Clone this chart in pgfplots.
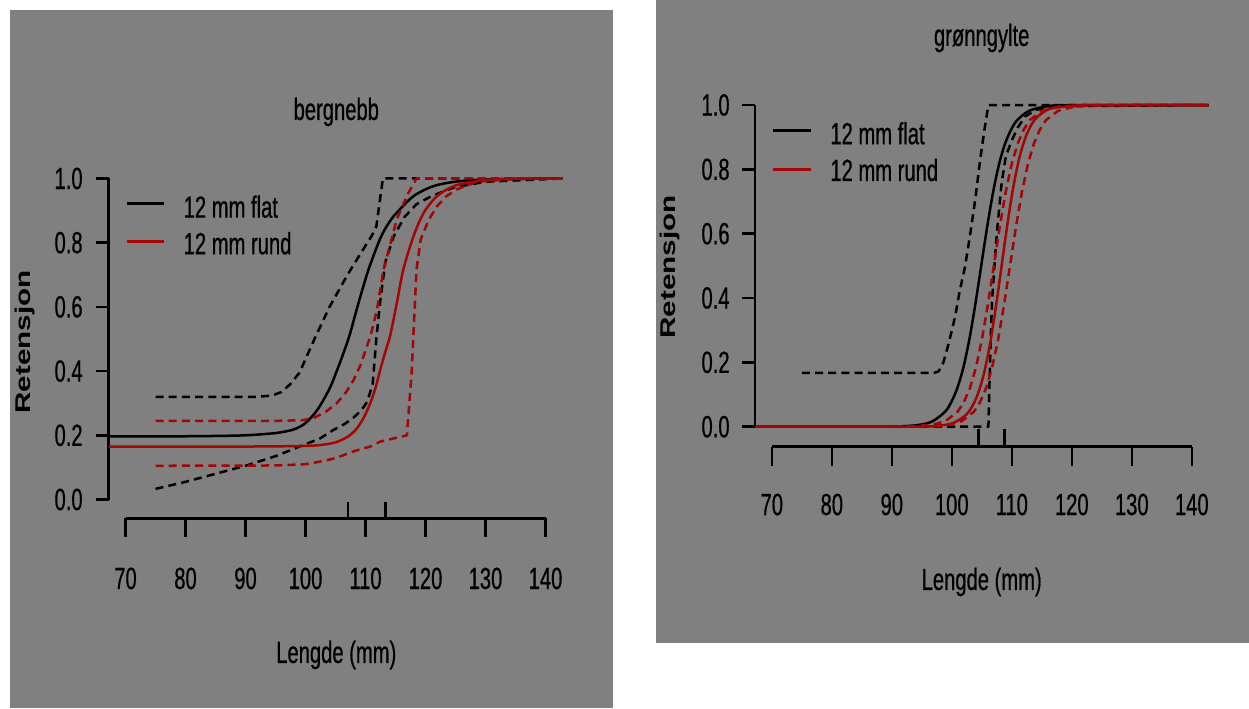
\documentclass[border=0pt]{standalone}
\usepackage{pgfplots}
\pgfplotsset{compat=1.18}
\usepackage{fontspec}
\usepackage{graphicx}
\setmainfont{Liberation Sans}[FakeStretch=0.66, FakeBold=0.6]
\newfontfamily\plainfont{Liberation Sans}
\definecolor{bg}{RGB}{128,128,128}
\definecolor{rred}{RGB}{165,5,5}
\tikzset{
  tl/.style={font=\fontsize{15.3}{17}\selectfont, text=black},
  bs/.style={black, line width=1.25pt, line join=round},
  bd/.style={black, line width=1.25pt, line join=round, dash pattern=on 4pt off 2.6pt},
  rs/.style={rred, line width=1.25pt, line join=round},
  rd/.style={rred, line width=1.25pt, line join=round, dash pattern=on 4pt off 2.6pt},
}
\pgfplotsset{rax/.style={scale only axis, hide axis, clip=false,
  xmin=67.2, xmax=142.8, ymin=-0.2, ymax=1.04, anchor=south west}}
\begin{document}
\begin{tikzpicture}[x=0.5pt,y=0.5pt]
\path[use as bounding box] (0,0) rectangle (1249,708);
\fill[white] (0,0) rectangle (1249,708);
\fill[bg] (10,0) rectangle (613,698);
\fill[bg] (656,65) rectangle (1249,708);

% ---------------- left panel: bergnebb ----------------
\begin{axis}[rax, at={(54.35pt,72.15pt)}, width=226.8pt, height=199.02pt]
\draw[line width=1.6pt] (axis cs:70,-0.0586) -- (axis cs:140,-0.0586);
\pgfplotsinvokeforeach{70,80,90,100,110,120,130,140}{
  \draw[line width=1.3pt] (axis cs:#1,-0.0586) -- (axis cs:#1,-0.118);
  \node[tl] at (axis cs:#1,-0.246) {#1};
}
\draw[line width=1.3pt] (axis cs:67.2,0) -- (axis cs:67.2,1);
\pgfplotsinvokeforeach{0.0,0.2,0.4,0.6,0.8,1.0}{
  \draw[line width=1.3pt] (axis cs:67.2,#1) -- (axis cs:65.03,#1);
  \node[tl, anchor=east, inner sep=0pt] at (axis cs:62.92,#1) {#1};
}
% rug of L50
\addplot[black, line width=1.3pt] coordinates {(107.05,-0.0586) (107.05,-0.0078)};
\addplot[black, line width=1.3pt] coordinates {(113.3,-0.0586) (113.3,-0.0078)};
% 12 mm flat
\addplot[bs, smooth] coordinates {(67.2,0.197) (75,0.197) (80,0.197) (85,0.198) (90,0.2) (95,0.207) (98,0.218) (100,0.238) (102,0.28) (104,0.345) (105.2,0.40) (106.4,0.46) (107.4,0.515) (108.8,0.61) (110.5,0.716) (112.5,0.815) (114,0.865) (115.2,0.893) (118,0.945) (121.3,0.976) (125,0.99) (130,0.997) (142.8,1.0)};
\addplot[bd] coordinates {(75,0.32) (92,0.32) (94.5,0.324) (96,0.335) (97.5,0.36) (99,0.395) (100.3,0.45) (101.5,0.5) (104,0.6) (107,0.7) (109.3,0.77) (111,0.82) (111.8,0.85) (112.9,1.0) (142.8,1.0)};
\addplot[bd] coordinates {(75,0.033) (80,0.055) (85,0.08) (90,0.105) (95,0.135) (99,0.165) (102.4,0.19) (104.5,0.215) (106.5,0.235) (108,0.255) (109.4,0.28) (110.3,0.305) (111.2,0.36) (111.8,0.50) (112.4,0.61) (113.3,0.74) (114.7,0.82) (116.5,0.88) (118.5,0.92) (121,0.945) (124.7,0.972) (130,0.99) (142.8,1.0)};
% 12 mm rund
\addplot[rs, smooth] coordinates {(67.2,0.165) (90,0.165) (100,0.167) (103,0.171) (105,0.178) (107,0.195) (108.5,0.22) (109.7,0.255) (110.8,0.30) (111.7,0.35) (112.4,0.40) (113.3,0.46) (114.1,0.51) (115.2,0.61) (116.3,0.716) (118,0.82) (119.7,0.893) (121.9,0.945) (124.7,0.976) (128,0.99) (133,0.998) (142.8,1.0)};
\addplot[rd] coordinates {(75,0.245) (95,0.245) (99.6,0.247) (101.5,0.255) (103.5,0.275) (105.2,0.30) (106.8,0.335) (108,0.372) (109.2,0.42) (110.2,0.476) (110.8,0.507) (111.9,0.59) (113,0.716) (114.2,0.80) (115.2,0.872) (117,0.95) (118.5,1.0) (142.8,1.0)};
\addplot[rd] coordinates {(75,0.105) (95,0.106) (100,0.11) (103,0.12) (105.2,0.13) (108,0.15) (110.8,0.165) (112.4,0.18) (116.9,0.20) (117.3,0.30) (117.7,0.40) (118.5,0.716) (119.2,0.81) (120.5,0.87) (121.9,0.913) (123.5,0.945) (125.2,0.966) (128.6,0.99) (135,0.999) (142.8,1.0)};
\end{axis}

% ---------------- right panel: grønngylte ----------------
\begin{axis}[rax, at={(377.5pt,108.48pt)}, width=226.8pt, height=199.45pt]
\draw[line width=1.6pt] (axis cs:70,-0.0622) -- (axis cs:140,-0.0622);
\pgfplotsinvokeforeach{70,80,90,100,110,120,130,140}{
  \draw[line width=1.3pt] (axis cs:#1,-0.0622) -- (axis cs:#1,-0.121);
  \node[tl] at (axis cs:#1,-0.242) {#1};
}
\draw[line width=1.3pt] (axis cs:67.2,0) -- (axis cs:67.2,1);
\pgfplotsinvokeforeach{0.0,0.2,0.4,0.6,0.8,1.0}{
  \draw[line width=1.3pt] (axis cs:67.2,#1) -- (axis cs:65.03,#1);
  \node[tl, anchor=east, inner sep=0pt] at (axis cs:63.03,#1) {#1};
}
\addplot[black, line width=1.3pt] coordinates {(104.4,-0.0622) (104.4,-0.007)};
\addplot[black, line width=1.3pt] coordinates {(108.8,-0.0622) (108.8,-0.007)};
% 12 mm flat
\addplot[bs, smooth] coordinates {(67.2,0) (80,0.00002) (90.9,0.0009) (94.9,0.0067) (96.9,0.018) (98.9,0.047) (99.9,0.076) (100.9,0.119) (101.9,0.182) (102.9,0.269) (103.9,0.378) (104.9,0.5) (105.9,0.622) (106.9,0.731) (107.9,0.818) (108.9,0.881) (109.9,0.924) (110.9,0.953) (112.9,0.982) (115.9,0.996) (119.9,0.9994) (142.8,1)};
\addplot[bd] coordinates {(75,0.167) (97.0,0.167) (97.8,0.172) (98.6,0.20) (99.5,0.26) (100.55,0.342) (101.3,0.42) (102.2,0.497) (103,0.59) (103.9,0.705) (104.8,0.84) (105.5,0.93) (106.1,1.0) (142.8,1.0)};
\addplot[bd] coordinates {(75,0) (106.1,0) (106.3,0.15) (106.5,0.28) (106.7,0.39) (107.1,0.5) (107.5,0.6) (108.3,0.757) (109,0.84) (110,0.89) (111,0.93) (112.2,0.964) (114,0.985) (117,0.996) (142.8,1.0)};
% 12 mm rund
\addplot[rs, smooth] coordinates {(67.2,0) (94.3,0.00045) (98.3,0.0041) (100.3,0.0121) (102.3,0.0356) (103.3,0.060) (104.3,0.0997) (105.3,0.161) (106.3,0.25) (107.3,0.366) (108.3,0.5) (109.3,0.634) (110.3,0.75) (111.3,0.839) (112.3,0.9) (113.3,0.94) (114.3,0.964) (116.3,0.988) (119.3,0.9959) (123.3,0.9997) (142.8,1)};
\addplot[rd] coordinates {(75,0) (93,0.0009) (97,0.0067) (99,0.018) (101,0.047) (102,0.076) (103,0.119) (104,0.182) (105,0.269) (106,0.378) (107,0.5) (108,0.622) (109,0.731) (110,0.818) (111,0.881) (112,0.924) (113,0.953) (115,0.982) (118,0.996) (122,0.9994) (142.8,1)};
\addplot[rd] coordinates {(75,0) (95.7,0.0009) (99.7,0.0067) (101.7,0.018) (103.7,0.047) (104.7,0.076) (105.7,0.119) (106.7,0.182) (107.7,0.269) (108.7,0.378) (109.7,0.5) (110.7,0.622) (111.7,0.731) (112.7,0.818) (113.7,0.881) (114.7,0.924) (115.7,0.953) (117.7,0.982) (120.7,0.996) (124.7,0.9994) (142.8,1)};
\end{axis}

% ---------------- texts and legends ----------------
\node[tl] at (336.3,596) {bergnebb};
\node[tl] at (336.3,53) {Lengde (mm)};
\node[rotate=90] at (25,366) {\scalebox{1}[0.72]{\plainfont\bfseries\fontsize{14.8}{17}\selectfont Retensjon}};
\draw[black, line width=1.25pt] (126.7,504.7) -- (164.3,504.7);
\draw[rred, line width=1.25pt] (126.7,466.3) -- (164.3,466.3);
\node[tl, anchor=west, inner sep=0pt] at (183.3,501.3) {12 mm flat};
\node[tl, anchor=west, inner sep=0pt] at (183.3,464.7) {12 mm rund};

\node[tl] at (981.7,670) {grønngylte};
\node[tl] at (981.7,126) {Lengde (mm)};
\node[rotate=90] at (670,441) {\scalebox{1}[0.72]{\plainfont\bfseries\fontsize{14.8}{17}\selectfont Retensjon}};
\draw[black, line width=1.25pt] (773.3,577.3) -- (810.7,577.3);
\draw[rred, line width=1.25pt] (773.3,538.7) -- (810.7,538.7);
\node[tl, anchor=west, inner sep=0pt] at (830,574.7) {12 mm flat};
\node[tl, anchor=west, inner sep=0pt] at (830,538) {12 mm rund};
\end{tikzpicture}
\end{document}
